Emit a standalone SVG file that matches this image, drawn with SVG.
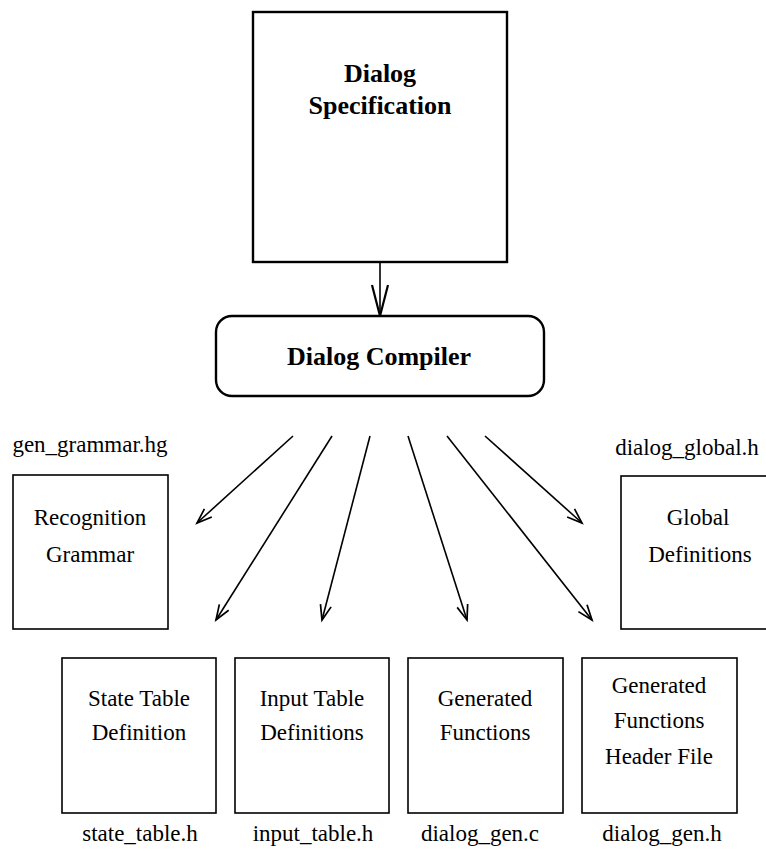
<svg xmlns="http://www.w3.org/2000/svg" width="766" height="852" viewBox="0 0 766 852">
  <style>
    .box { fill: #fff; stroke: #000; stroke-width: 1.6; }
    .heavy { fill: #fff; stroke: #000; stroke-width: 2.4; }
    .bold { font-family: "Liberation Serif", "Times New Roman", serif; font-size: 26px; font-weight: bold; fill: #000; text-anchor: middle; }
    .txt { font-family: "Liberation Serif", "Times New Roman", serif; font-size: 23px; fill: #000; text-anchor: middle; }
    .conn { stroke: #000; stroke-width: 1.6; fill: none; }
  </style>
  <defs>
    <marker id="vee" markerUnits="userSpaceOnUse" markerWidth="20" markerHeight="14" viewBox="-16 -7 18 14" refX="0" refY="0" orient="auto">
      <path d="M-15,-5.5 L0,0 L-15,5.5" fill="none" stroke="#000" stroke-width="1.7"/>
    </marker>
    <marker id="veeBig" markerUnits="userSpaceOnUse" markerWidth="34" markerHeight="20" viewBox="-32 -10 34 20" refX="0" refY="0" orient="auto">
      <path d="M-31,-8 L0,0 L-31,8" fill="none" stroke="#000" stroke-width="2.2"/>
    </marker>
  </defs>

  <g id="dialog-specification">
    <rect class="heavy" x="253" y="12" width="254" height="250"/>
    <text class="bold" x="380" y="82">Dialog</text>
    <text class="bold" x="380" y="114">Specification</text>
  </g>

  <g id="dialog-compiler">
    <rect class="heavy" x="216" y="316" width="328" height="80" rx="16" ry="16"/>
    <text class="bold" x="379" y="365">Dialog Compiler</text>
  </g>

  <g id="recognition-grammar">
    <text class="txt" x="90" y="452">gen_grammar.hg</text>
    <rect class="box" x="13" y="475" width="155" height="154"/>
    <text class="txt" x="90" y="525">Recognition</text>
    <text class="txt" x="90" y="562">Grammar</text>
  </g>

  <g id="global-definitions">
    <text class="txt" x="687" y="455">dialog_global.h</text>
    <rect class="box" x="621" y="476" width="155" height="153"/>
    <text class="txt" x="698" y="525">Global</text>
    <text class="txt" x="700" y="562">Definitions</text>
  </g>

  <g id="state-table">
    <rect class="box" x="62" y="658" width="154" height="155"/>
    <text class="txt" x="139" y="706">State Table</text>
    <text class="txt" x="139" y="740">Definition</text>
    <text class="txt" x="140" y="841">state_table.h</text>
  </g>

  <g id="input-table">
    <rect class="box" x="235" y="658" width="154" height="155"/>
    <text class="txt" x="312" y="706">Input Table</text>
    <text class="txt" x="312" y="740">Definitions</text>
    <text class="txt" x="313" y="841">input_table.h</text>
  </g>

  <g id="generated-functions">
    <rect class="box" x="408" y="658" width="155" height="155"/>
    <text class="txt" x="485" y="706">Generated</text>
    <text class="txt" x="485" y="740">Functions</text>
    <text class="txt" x="480" y="841">dialog_gen.c</text>
  </g>

  <g id="generated-header">
    <rect class="box" x="582" y="658" width="155" height="155"/>
    <text class="txt" x="659" y="693">Generated</text>
    <text class="txt" x="659" y="728">Functions</text>
    <text class="txt" x="659" y="764">Header File</text>
    <text class="txt" x="662" y="841">dialog_gen.h</text>
  </g>

  <g id="connectors">
    <line class="conn" x1="380" y1="262" x2="380" y2="316" stroke-width="2.2" marker-end="url(#veeBig)"/>
    <line class="conn" x1="293" y1="436" x2="197" y2="523" marker-end="url(#vee)"/>
    <line class="conn" x1="332" y1="436" x2="216" y2="620" marker-end="url(#vee)"/>
    <line class="conn" x1="370" y1="436" x2="322" y2="620" marker-end="url(#vee)"/>
    <line class="conn" x1="408" y1="436" x2="467" y2="620" marker-end="url(#vee)"/>
    <line class="conn" x1="447" y1="436" x2="592" y2="620" marker-end="url(#vee)"/>
    <line class="conn" x1="485" y1="436" x2="582" y2="523" marker-end="url(#vee)"/>
  </g>
</svg>
